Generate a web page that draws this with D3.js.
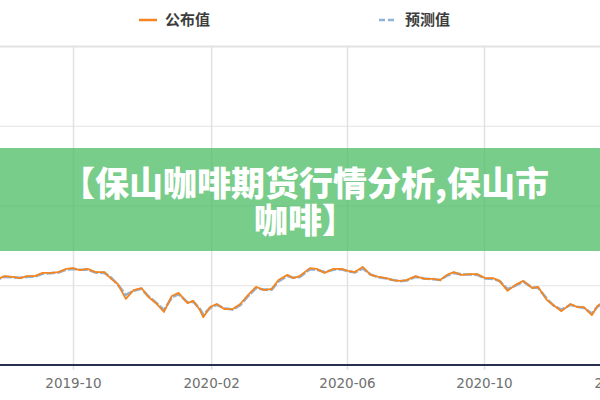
<!DOCTYPE html>
<html>
<head>
<meta charset="utf-8">
<script src="https://cdn.jsdelivr.net/npm/d3@7"></script>
<style>
  body { margin: 0; background: #fff; }
  svg { display: block; }
</style>
</head>
<body>
<div class="chart"></div>
<script>
// chart data
var dates = [
    "2019-07-21", "2019-07-28",
    "2019-08-01", "2019-08-08", "2019-08-15", "2019-08-21", "2019-08-28",
    "2019-09-04", "2019-09-11", "2019-09-18", "2019-09-25",
    "2019-10-01", "2019-10-07", "2019-10-14", "2019-10-21", "2019-10-29",
    "2019-11-04", "2019-11-10", "2019-11-17", "2019-11-24",
    "2019-12-01", "2019-12-07", "2019-12-14", "2019-12-21", "2019-12-28",
    "2020-01-03", "2020-01-11", "2020-01-16", "2020-01-22", "2020-01-25", "2020-01-31",
    "2020-02-06", "2020-02-13", "2020-02-20", "2020-02-27",
    "2020-03-05", "2020-03-12", "2020-03-19", "2020-03-26",
    "2020-04-01", "2020-04-09", "2020-04-14", "2020-04-20", "2020-04-29",
    "2020-05-05", "2020-05-12", "2020-05-20", "2020-05-27",
    "2020-06-02", "2020-06-08", "2020-06-15", "2020-06-22", "2020-06-29",
    "2020-07-06", "2020-07-12", "2020-07-18", "2020-07-24",
    "2020-08-01", "2020-08-09", "2020-08-17", "2020-08-23", "2020-08-29",
    "2020-09-04", "2020-09-11", "2020-09-19", "2020-09-25",
    "2020-10-02", "2020-10-09", "2020-10-15", "2020-10-22", "2020-10-29",
    "2020-11-05", "2020-11-13", "2020-11-18", "2020-11-26",
    "2020-12-02", "2020-12-09", "2020-12-17", "2020-12-23", "2020-12-29",
    "2021-01-05", "2021-01-10", "2021-01-18"
];

var published = [
    101.6, 101.8,
    102.3, 102.1, 101.8, 102.3, 102.3,
    103.1, 103.1, 103.3, 104.1,
    104.3, 103.8, 104.1, 103.3, 103.3,
    101.6, 100.3, 96.6, 98.8,
    99.3, 97.1, 95.5, 93.3, 97.3,
    98.1, 95.5, 96.1, 93.8, 92.0, 94.5,
    95.3, 94.0, 94.0, 95.3,
    97.6, 99.6, 98.8, 99.1,
    101.3, 102.6, 101.8, 102.3, 104.3,
    104.1, 103.1, 104.1, 104.1,
    103.6, 103.3, 104.6, 102.6, 102.1,
    101.8, 101.3, 101.1, 101.3,
    102.3, 101.6, 101.6, 101.3, 102.6,
    103.3, 102.6, 102.8, 102.8,
    101.8, 101.8, 101.1, 98.6, 100.1,
    101.1, 99.3, 99.6, 96.3,
    95.0, 93.5, 95.3, 94.5, 94.5,
    92.5, 94.8, 96.3
];

var forecast = [
    101.5, 101.7,
    102.1, 102.0, 101.9, 102.1, 102.2,
    102.9, 103.0, 103.2, 103.9,
    104.1, 103.9, 103.9, 103.2, 103.1,
    101.9, 100.1, 97.6, 98.6,
    99.1, 97.3, 95.6, 93.8, 96.9,
    97.8, 95.7, 95.9, 94.1, 92.6, 94.3,
    95.1, 94.2, 93.9, 95.0,
    97.3, 99.3, 98.9, 98.9,
    101.0, 102.3, 101.9, 102.1, 104.0,
    103.9, 103.3, 103.9, 104.0,
    103.5, 103.2, 104.2, 102.7, 102.0,
    101.7, 101.3, 101.0, 101.2,
    102.1, 101.7, 101.5, 101.3, 102.4,
    103.1, 102.7, 102.7, 102.6,
    101.7, 101.6, 101.0, 99.0, 99.9,
    100.9, 99.4, 99.4, 96.6,
    94.9, 93.9, 95.1, 94.6, 94.3,
    92.9, 94.6, 96.1
];

var tickLabels = ["2019-10", "2020-02", "2020-06", "2020-10", "2021-02"];
var yTicks = [80, 100, 120, 140, 160];
var seriesNames = ["公布值", "预测值"];
var titleLines = ["【保山咖啡期货行情分析,保山市", "咖啡】"];

var svgWidth = 600;
var svgHeight = 400;

var svg = d3.select(".chart")
    .append("svg")
    .attr("width", svgWidth)
    .attr("height", svgHeight);

var parseDay = d3.timeParse("%Y-%m-%d");
var parseMonth = d3.timeParse("%Y-%m");

var rows = dates.map(function (d, i) {
    return { date: parseDay(d), pub: published[i], fc: forecast[i] };
});

// scales
var xScale = d3.scaleTime()
    .domain([parseMonth("2019-10"), parseMonth("2020-10")])
    .range([73, 484]);

var yScale = d3.scaleLinear()
    .domain([80, 160])
    .range([365, 46]);

// horizontal grid
var yGrid = svg.append("g")
    .attr("transform", "translate(0,0)")
    .call(d3.axisRight(yScale).tickValues(yTicks).tickSize(svgWidth).tickFormat(""));
yGrid.select(".domain").remove();
yGrid.selectAll("line")
    .attr("stroke", "#e2e2e2")
    .attr("stroke-width", function (d) { return d === 160 ? 2 : 1.2; });

// vertical grid
var xGrid = svg.append("g")
    .attr("transform", "translate(0,46)")
    .call(d3.axisBottom(xScale)
        .tickValues(tickLabels.map(parseMonth))
        .tickSize(365 - 46 + 5)
        .tickFormat(""));
xGrid.select(".domain").remove();
xGrid.selectAll("line")
    .attr("stroke", "#e2e2e2")
    .attr("stroke-width", 1.5);

// lines
svg.append("clipPath")
    .attr("id", "plotClip")
    .append("rect")
    .attr("x", 0)
    .attr("y", 40)
    .attr("width", svgWidth)
    .attr("height", 330);

var fcLine = d3.line()
    .x(d => xScale(d.date))
    .y(d => yScale(d.fc));

var pubLine = d3.line()
    .x(d => xScale(d.date))
    .y(d => yScale(d.pub));

var lines = svg.append("g").attr("clip-path", "url(#plotClip)");

lines.append("path")
    .datum(rows)
    .attr("fill", "none")
    .attr("stroke", "#8fb3da")
    .attr("stroke-width", 2.6)
    .attr("stroke-dasharray", "9,2")
    .attr("stroke-linejoin", "round")
    .attr("d", fcLine);

lines.append("path")
    .datum(rows)
    .attr("fill", "none")
    .attr("stroke", "#f5851f")
    .attr("stroke-width", 1.8)
    .attr("stroke-linejoin", "round")
    .attr("d", pubLine);

// x axis
var xAxis = svg.append("g")
    .attr("transform", "translate(0,365)")
    .call(d3.axisBottom(xScale)
        .tickValues(tickLabels.map(parseMonth))
        .tickSize(0)
        .tickPadding(13)
        .tickFormat(d3.timeFormat("%Y-%m")));
xAxis.select(".domain")
    .attr("d", "M0,0H" + svgWidth)
    .attr("stroke", "#27314f")
    .attr("stroke-width", 2);
xAxis.selectAll("text")
    .attr("fill", "#6f6f6f")
    .style("font-family", "'DejaVu Sans', sans-serif")
    .style("font-size", "13.5px");

// title banner over the chart
svg.append("rect")
    .attr("x", 0)
    .attr("y", 148)
    .attr("width", svgWidth)
    .attr("height", 103)
    .attr("fill", "rgb(72,188,96)")
    .attr("opacity", 0.74);

svg.selectAll(".titleLine")
    .data(titleLines)
    .enter()
    .append("text")
    .attr("class", "titleLine")
    .attr("x", 305)
    .attr("y", (d, i) => 184 + i * 37)
    .attr("dy", "0.35em")
    .attr("text-anchor", "middle")
    .attr("fill", "#fff")
    .style("font-family", "'Noto Sans CJK SC', sans-serif")
    .style("font-weight", 900)
    .style("font-size", "34px")
    .text(d => d);

// legend
var legendX = [139, 379];
var legend = svg.selectAll(".legendItem")
    .data(seriesNames)
    .enter()
    .append("g")
    .attr("class", "legendItem")
    .attr("transform", (d, i) => `translate(${legendX[i]}, 20)`);

legend.append("line")
    .attr("x1", 0)
    .attr("x2", 18)
    .attr("stroke", (d, i) => i === 0 ? "#f5851f" : "#8fb3da")
    .attr("stroke-width", 2.5)
    .attr("stroke-dasharray", (d, i) => i === 0 ? null : "6,3");

legend.append("text")
    .attr("x", 26)
    .attr("dy", "0.35em")
    .attr("fill", "#3d3d3d")
    .style("font-family", "'Noto Sans CJK SC', sans-serif")
    .style("font-weight", 700)
    .style("font-size", "15px")
    .text(d => d);
</script>
</body>
</html>
